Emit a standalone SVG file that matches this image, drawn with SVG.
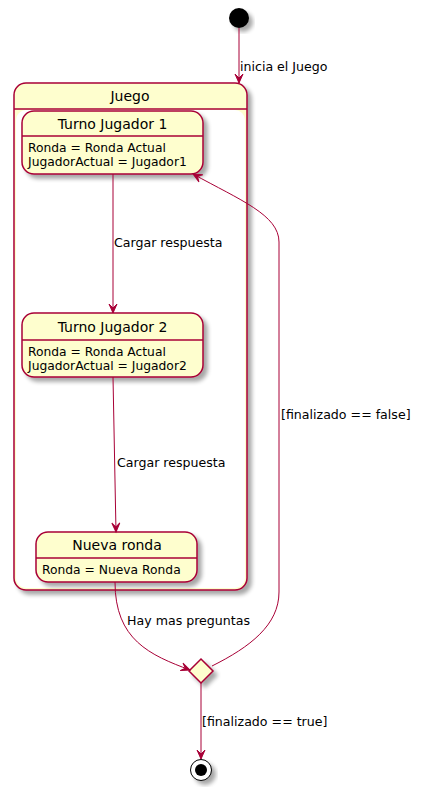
<svg xmlns="http://www.w3.org/2000/svg" width="421" height="790" viewBox="0 0 421 790">
<style>
.st{fill:#FEFECE;stroke:#A80036;stroke-width:1.5}
.sep{stroke:#A80036;stroke-width:1.5}
.ln{fill:none;stroke:#A80036;stroke-width:1}
.t{font-family:"DejaVu Sans",sans-serif;fill:#000}
.ti{font-size:14px;text-anchor:middle}
.bd{font-size:12.3px}
.lb{font-size:12.6px}
</style>
<defs>
<filter id="sh" x="-20%" y="-20%" width="150%" height="150%">
<feGaussianBlur in="SourceAlpha" stdDeviation="2"/>
<feOffset dx="4" dy="4" result="b"/>
<feComponentTransfer><feFuncA type="linear" slope="0.35"/></feComponentTransfer>
<feMerge><feMergeNode/><feMergeNode in="SourceGraphic"/></feMerge>
</filter>
<marker id="ah" markerUnits="userSpaceOnUse" markerWidth="12" markerHeight="12" viewBox="-10 -6 12 12" refX="0" refY="0" orient="auto">
<path d="M0,0 L-9,-4 L-5,0 L-9,4 Z" fill="#A80036" stroke="#A80036" stroke-width="1"/>
</marker>
</defs>
<rect width="421" height="790" fill="#fff"/>

<g id="start"><circle cx="239" cy="18" r="10" fill="#000" filter="url(#sh)"/></g>

<g id="Juego">
<rect class="st" x="14" y="83" width="233" height="507" rx="12" filter="url(#sh)"/>
<rect x="16" y="110" width="229" height="478" rx="10" fill="#fff"/>
<line class="sep" x1="14" y1="109" x2="247" y2="109"/>
<text class="t ti" x="130" y="101">Juego</text>
</g>

<g id="TurnoJugador1">
<rect class="st" x="22" y="111" width="181" height="63" rx="12" filter="url(#sh)"/>
<line class="sep" x1="22" y1="136" x2="203" y2="136"/>
<text class="t ti" x="112.5" y="129">Turno Jugador 1</text>
<text class="t bd" x="28" y="152">Ronda = Ronda Actual</text>
<text class="t bd" x="28" y="166">JugadorActual = Jugador1</text>
</g>

<g id="TurnoJugador2">
<rect class="st" x="22" y="313" width="181" height="64" rx="12" filter="url(#sh)"/>
<line class="sep" x1="22" y1="340" x2="203" y2="340"/>
<text class="t ti" x="112.5" y="332">Turno Jugador 2</text>
<text class="t bd" x="28" y="356">Ronda = Ronda Actual</text>
<text class="t bd" x="28" y="370">JugadorActual = Jugador2</text>
</g>

<g id="NuevaRonda">
<rect class="st" x="36" y="532" width="161" height="50" rx="12" filter="url(#sh)"/>
<line class="sep" x1="36" y1="558" x2="197" y2="558"/>
<text class="t ti" x="117" y="550">Nueva ronda</text>
<text class="t bd" x="42" y="574">Ronda = Nueva Ronda</text>
</g>

<g id="choice">
<polygon class="st" points="201,659 213,671 201,683 189,671" filter="url(#sh)"/>
</g>

<g id="end">
<circle cx="201" cy="770" r="10.5" fill="#fff" stroke="#000" stroke-width="1" filter="url(#sh)"/>
<circle cx="201" cy="770" r="6" fill="#000"/>
</g>

<g id="connectors">
<path class="ln" d="M239,28 L239,83" marker-end="url(#ah)"/>
<text class="t lb" x="240" y="71">inicia el Juego</text>

<path class="ln" d="M113,174 L113,313" marker-end="url(#ah)"/>
<text class="t lb" x="114" y="247">Cargar respuesta</text>

<path class="ln" d="M113,377 L116,532" marker-end="url(#ah)"/>
<text class="t lb" x="117" y="467">Cargar respuesta</text>

<path class="ln" d="M115,582 C115,640 150,655 190,670" marker-end="url(#ah)"/>
<text class="t lb" x="127" y="625">Hay mas preguntas</text>

<path class="ln" d="M212,666 C250,647 279,625 279,592 L279,242 C279,215 240,200 193,174" marker-end="url(#ah)"/>
<text class="t lb" x="281" y="419">[finalizado == false]</text>

<path class="ln" d="M201,683 L201,759" marker-end="url(#ah)"/>
<text class="t lb" x="202" y="726">[finalizado == true]</text>
</g>
</svg>
